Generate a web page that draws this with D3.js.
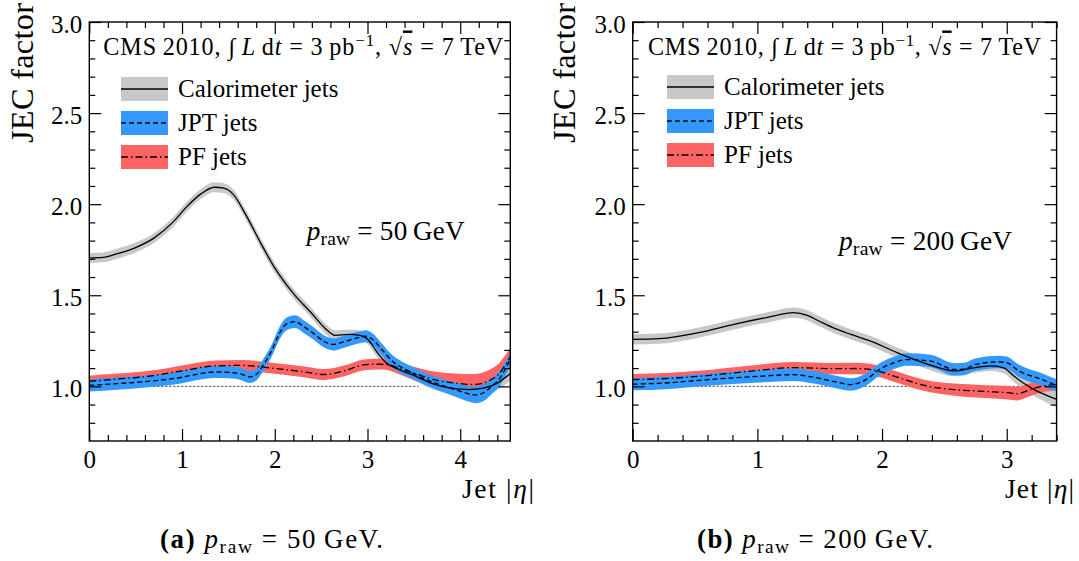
<!DOCTYPE html>
<html>
<head>
<meta charset="utf-8">
<script src="https://cdn.jsdelivr.net/npm/d3@7"></script>
<style>
  html, body { margin: 0; padding: 0; background: #fff; }
  svg { display: block; }
  text { font-family: "Liberation Serif", "DejaVu Serif", serif; fill: #000; }
</style>
</head>
<body>
<svg id="chart" width="1079" height="561"></svg>
<script>
// Jet energy correction (JEC) factor versus jet |eta| for three jet types.

const seriesNames = ["Calorimeter jets", "JPT jets", "PF jets"];
const yTicks = [1.0, 1.5, 2.0, 2.5, 3.0];
const xTicks50 = [0, 1, 2, 3, 4];
const xTicks200 = [0, 1, 2, 3];

// ---- p_raw = 50 GeV ----
const caloEta50 = [0, 0.15, 0.3, 0.5, 0.7, 0.9, 1.05, 1.2, 1.35, 1.45, 1.55, 1.7, 1.85, 2.0, 2.2, 2.4, 2.55, 2.65, 2.8, 2.92, 3.0, 3.1, 3.2, 3.35, 3.5, 3.7, 3.9, 4.1, 4.25, 4.4, 4.54];
const calo50 = [1.705, 1.708, 1.728, 1.762, 1.815, 1.9, 1.985, 2.055, 2.093, 2.088, 2.055, 1.93, 1.785, 1.65, 1.51, 1.4, 1.315, 1.28, 1.285, 1.28, 1.26, 1.19, 1.13, 1.09, 1.06, 1.015, 0.99, 0.982, 0.99, 1.018, 1.07];
const caloErr50 = [0.027, 0.027, 0.027, 0.027, 0.027, 0.027, 0.027, 0.027, 0.027, 0.027, 0.027, 0.027, 0.027, 0.027, 0.027, 0.027, 0.027, 0.027, 0.027, 0.027, 0.027, 0.027, 0.027, 0.028, 0.029, 0.03, 0.032, 0.034, 0.036, 0.038, 0.04];

const jptEta50 = [0, 0.3, 0.67, 1.0, 1.2, 1.36, 1.5, 1.64, 1.73, 1.8, 1.88, 1.97, 2.05, 2.12, 2.22, 2.32, 2.42, 2.52, 2.63, 2.75, 2.88, 2.98, 3.05, 3.15, 3.28, 3.4, 3.5, 3.62, 3.75, 3.97, 4.1, 4.17, 4.25, 4.33, 4.42, 4.47, 4.54];
const jpt50 = [1.005, 1.015, 1.029, 1.05, 1.07, 1.079, 1.077, 1.067, 1.052, 1.065, 1.12, 1.2, 1.29, 1.34, 1.355, 1.325, 1.29, 1.25, 1.23, 1.245, 1.265, 1.275, 1.26, 1.205, 1.133, 1.095, 1.07, 1.04, 1.015, 0.978, 0.958, 0.953, 0.965, 0.996, 1.04, 1.08, 1.15];
const jptErr50 = [0.033, 0.033, 0.033, 0.033, 0.033, 0.033, 0.033, 0.033, 0.033, 0.033, 0.033, 0.033, 0.034, 0.035, 0.035, 0.035, 0.034, 0.033, 0.033, 0.033, 0.033, 0.033, 0.033, 0.033, 0.033, 0.033, 0.033, 0.033, 0.035, 0.039, 0.043, 0.046, 0.046, 0.043, 0.041, 0.039, 0.037];

const pfEta50 = [0, 0.3, 0.67, 1.0, 1.36, 1.64, 1.97, 2.31, 2.53, 2.75, 2.96, 3.1, 3.21, 3.34, 3.46, 3.6, 3.75, 3.95, 4.15, 4.32, 4.42, 4.47, 4.54];
const pf50 = [1.028, 1.04, 1.057, 1.085, 1.112, 1.115, 1.1, 1.08, 1.065, 1.085, 1.118, 1.122, 1.12, 1.1, 1.079, 1.055, 1.033, 1.018, 1.01, 1.033, 1.07, 1.105, 1.16];
const pfErr50 = [0.03, 0.03, 0.03, 0.03, 0.03, 0.03, 0.03, 0.03, 0.03, 0.03, 0.03, 0.03, 0.03, 0.031, 0.034, 0.039, 0.046, 0.053, 0.058, 0.06, 0.058, 0.055, 0.052];

// ---- p_raw = 200 GeV ----
const caloEta200 = [0, 0.21, 0.53, 0.82, 1.09, 1.29, 1.4, 1.49, 1.63, 1.75, 1.94, 2.12, 2.34, 2.58, 2.72, 2.88, 2.98, 3.06, 3.2, 3.32, 3.4];
const calo200 = [1.258, 1.262, 1.295, 1.342, 1.38, 1.405, 1.39, 1.36, 1.315, 1.285, 1.24, 1.185, 1.128, 1.085, 1.1, 1.112, 1.1, 1.055, 0.99, 0.95, 0.928];
const caloErr200 = [0.028, 0.028, 0.028, 0.028, 0.028, 0.028, 0.028, 0.028, 0.028, 0.028, 0.028, 0.028, 0.028, 0.028, 0.028, 0.028, 0.03, 0.032, 0.035, 0.038, 0.042];

const jptEta200 = [0, 0.3, 0.53, 1.01, 1.29, 1.45, 1.63, 1.75, 1.86, 1.99, 2.1, 2.2, 2.39, 2.58, 2.66, 2.74, 2.93, 3.0, 3.09, 3.3, 3.4];
const jpt200 = [1.012, 1.02, 1.033, 1.055, 1.064, 1.05, 1.024, 1.01, 1.033, 1.097, 1.13, 1.147, 1.139, 1.093, 1.095, 1.118, 1.134, 1.13, 1.088, 1.033, 1.005];
const jptErr200 = [0.034, 0.034, 0.034, 0.034, 0.034, 0.034, 0.034, 0.034, 0.034, 0.034, 0.034, 0.034, 0.034, 0.034, 0.034, 0.034, 0.034, 0.034, 0.034, 0.034, 0.034];

const pfEta200 = [0, 0.3, 0.53, 1.01, 1.29, 1.63, 1.8, 1.94, 2.12, 2.34, 2.58, 2.79, 3.01, 3.08, 3.2, 3.3, 3.4];
const pf200 = [1.037, 1.044, 1.055, 1.088, 1.103, 1.097, 1.098, 1.088, 1.051, 1.005, 0.982, 0.973, 0.965, 0.96, 0.985, 1.003, 1.01];
const pfErr200 = [0.031, 0.031, 0.031, 0.031, 0.031, 0.031, 0.031, 0.031, 0.031, 0.031, 0.033, 0.035, 0.037, 0.037, 0.035, 0.033, 0.031];

// ---- styling ----
const bandColors = ["#c8c8c8", "#3399ff", "#ff6464"];
const lineDash = [null, "5,3", "7,3,1.5,3"];

const svg = d3.select("#chart");

function zip(eta, v, e) {
  return eta.map((x, i) => ({ eta: x, v: v[i], e: e[i] }));
}

// Build a text element at a base size, then rebuild it at a size that
// nearly fills the target width; the last bit goes to letter spacing.
function sizedText(parent, build, baseSize, targetW, maxScale) {
  let t = build(parent, baseSize);
  const w = t.node().getComputedTextLength();
  const s = baseSize * Math.min(maxScale, (targetW * 0.985) / w);
  t.remove();
  t = build(parent, s);
  t.attr("textLength", targetW).attr("lengthAdjust", "spacing");
  return t;
}

function drawPanel(cfg) {
  const g = svg.append("g");
  const x = d3.scaleLinear().domain([0, cfg.etaMax]).range([cfg.left, cfg.right]);
  const y = d3.scaleLinear().domain([0.7, 3.0]).range([441, 22]);

  const clipId = "clip" + cfg.id;
  svg.append("defs").append("clipPath").attr("id", clipId)
    .append("rect").attr("x", cfg.left).attr("y", 22)
    .attr("width", cfg.right - cfg.left).attr("height", 441 - 22);

  const plot = g.append("g").attr("clip-path", `url(#${clipId})`);

  // reference at unity
  plot.append("line")
    .attr("x1", x(0)).attr("x2", x(cfg.refEnd))
    .attr("y1", y(1)).attr("y2", y(1))
    .attr("stroke", "#333").attr("stroke-width", 1).attr("stroke-dasharray", "2,2");

  const area = d3.area().curve(d3.curveMonotoneX)
    .x(d => x(d.eta)).y0(d => y(d.v - d.e)).y1(d => y(d.v + d.e));
  const line = d3.line().curve(d3.curveMonotoneX)
    .x(d => x(d.eta)).y(d => y(d.v));

  // bands: calorimeter, PF, JPT
  [0, 2, 1].forEach(k => {
    plot.append("path").datum(cfg.series[k])
      .attr("d", area).attr("fill", bandColors[k]).attr("stroke", "none");
  });
  [0, 2, 1].forEach(k => {
    plot.append("path").datum(cfg.series[k])
      .attr("d", line).attr("fill", "none").attr("stroke", "#000")
      .attr("stroke-width", 1.3)
      .attr("stroke-dasharray", lineDash[k]);
  });

  // axes with inward ticks on all four sides
  const xMinor = d3.range(0, cfg.etaMax + 1e-9, 0.2).filter(v => Math.abs(v - Math.round(v)) > 1e-6);
  const yMinor = d3.range(0.8, 3.0001, 0.1).filter(v => Math.abs(v * 2 - Math.round(v * 2)) > 1e-6);

  const axisG = g.append("g");
  const styleAxis = sel => {
    sel.attr("font-family", null).attr("font-size", null);
    sel.select(".domain").remove();
    sel.selectAll(".tick line").attr("stroke", "#000").attr("stroke-width", 1.2);
    sel.selectAll("text").attr("font-size", 25).attr("fill", "#000");
  };

  axisG.append("g").attr("transform", "translate(0,441)")
    .call(d3.axisBottom(x).tickValues(cfg.xTicks).tickSize(-12).tickPadding(9).tickFormat(d3.format("d")))
    .call(styleAxis);
  axisG.append("g").attr("transform", "translate(0,441)")
    .call(d3.axisBottom(x).tickValues(xMinor).tickSize(-6).tickFormat(""))
    .call(styleAxis);
  axisG.append("g").attr("transform", "translate(0,22)")
    .call(d3.axisTop(x).tickValues(cfg.xTicks).tickSize(-12).tickFormat(""))
    .call(styleAxis);
  axisG.append("g").attr("transform", "translate(0,22)")
    .call(d3.axisTop(x).tickValues(xMinor).tickSize(-6).tickFormat(""))
    .call(styleAxis);
  axisG.append("g").attr("transform", `translate(${cfg.left},0)`)
    .call(d3.axisLeft(y).tickValues(yTicks).tickSize(-12).tickPadding(7).tickFormat(d3.format(".1f")))
    .call(styleAxis)
    .selectAll("text").attr("dy", "0.42em");
  axisG.append("g").attr("transform", `translate(${cfg.left},0)`)
    .call(d3.axisLeft(y).tickValues(yMinor).tickSize(-6).tickFormat(""))
    .call(styleAxis);
  axisG.append("g").attr("transform", `translate(${cfg.right},0)`)
    .call(d3.axisRight(y).tickValues(yTicks).tickSize(-12).tickFormat(""))
    .call(styleAxis);
  axisG.append("g").attr("transform", `translate(${cfg.right},0)`)
    .call(d3.axisRight(y).tickValues(yMinor).tickSize(-6).tickFormat(""))
    .call(styleAxis);

  g.append("rect")
    .attr("x", cfg.left).attr("y", 22)
    .attr("width", cfg.right - cfg.left).attr("height", 441 - 22)
    .attr("fill", "none").attr("stroke", "#000").attr("stroke-width", 1.4);

  // axis titles
  sizedText(g, (p, s) => p.append("text")
    .attr("transform", `translate(${cfg.yLabelX},73) rotate(-90)`)
    .attr("text-anchor", "middle").attr("font-size", s).text("JEC factor"), 30, 140, 1.08);

  sizedText(g, (p, s) => {
    const t = p.append("text").attr("x", cfg.xLabelX).attr("y", 498).attr("font-size", s);
    t.append("tspan").text("Jet |");
    t.append("tspan").attr("font-style", "italic").text("η");
    t.append("tspan").text("|");
    return t;
  }, 25, cfg.xLabelW, 1.1);

  // collaboration / dataset line
  sizedText(g, (p, s) => {
    const t = p.append("text").attr("x", cfg.headX).attr("y", 54.5).attr("font-size", s);
    t.append("tspan").text("CMS\u2009" + "2010, ∫\u2009");
    t.append("tspan").attr("font-style", "italic").text("L");
    t.append("tspan").text("\u2009d");
    t.append("tspan").attr("font-style", "italic").text("t");
    t.append("tspan").text(" = 3\u2009pb");
    t.append("tspan").attr("dy", -0.36 * s).attr("font-size", 0.7 * s).text("−1");
    t.append("tspan").attr("dy", 0.36 * s).text(", √");
    t.append("tspan").attr("font-style", "italic").style("text-decoration", "overline").text("s");
    t.append("tspan").text(" = 7\u2009TeV");
    return t;
  }, 21, cfg.headW, 1.15);

  // legend
  const lg = g.append("g");
  seriesNames.forEach((name, k) => {
    const cy = cfg.legY + k * 34;
    lg.append("rect").attr("x", cfg.legX).attr("y", cy - 12)
      .attr("width", 47).attr("height", 24).attr("fill", bandColors[k]);
    lg.append("line").attr("x1", cfg.legX).attr("x2", cfg.legX + 47)
      .attr("y1", cy).attr("y2", cy)
      .attr("stroke", "#000").attr("stroke-width", 1.3)
      .attr("stroke-dasharray", lineDash[k]);
    lg.append("text").attr("x", cfg.legX + 57).attr("y", cy + 8)
      .attr("font-size", 25).text(name);
  });

  // momentum annotation
  sizedText(g, (p, s) => {
    const t = p.append("text").attr("x", cfg.pX).attr("y", cfg.pY).attr("font-size", s);
    t.append("tspan").attr("font-style", "italic").text("p");
    t.append("tspan").attr("dy", 0.2 * s).attr("font-size", 0.72 * s).text("raw");
    t.append("tspan").attr("dy", -0.2 * s).text(` = ${cfg.pLabel}\u2009GeV`);
    return t;
  }, 25, cfg.pW, 1.12);

  // sub-figure caption
  sizedText(g, (p, s) => {
    const t = p.append("text").attr("x", cfg.capX).attr("y", 548).attr("font-size", s);
    t.append("tspan").attr("font-weight", "bold").text(cfg.capTag);
    t.append("tspan").text(" ");
    t.append("tspan").attr("font-style", "italic").text("p");
    t.append("tspan").attr("dy", 0.2 * s).attr("font-size", 0.72 * s).text("raw");
    t.append("tspan").attr("dy", -0.2 * s).text(` = ${cfg.pLabel}\u2009GeV.`);
    return t;
  }, 24, cfg.capW, 1.12);
}

drawPanel({
  id: "a", left: 89.3, right: 510.3, etaMax: 4.54, xTicks: xTicks50, refEnd: 3.55,
  series: [zip(caloEta50, calo50, caloErr50), zip(jptEta50, jpt50, jptErr50), zip(pfEta50, pf50, pfErr50)],
  yLabelX: 33, xLabelX: 462, xLabelW: 72,
  headX: 103.3, headW: 400, legX: 121, legY: 89,
  pX: 306.7, pY: 240, pW: 158, pLabel: "50",
  capX: 160, capW: 223, capTag: "(a)"
});

drawPanel({
  id: "b", left: 632.7, right: 1056.6, etaMax: 3.4, xTicks: xTicks200, refEnd: 3.4,
  series: [zip(caloEta200, calo200, caloErr200), zip(jptEta200, jpt200, jptErr200), zip(pfEta200, pf200, pfErr200)],
  yLabelX: 575, xLabelX: 1005, xLabelW: 69,
  headX: 648, headW: 393, legX: 667, legY: 87,
  pX: 839, pY: 250, pW: 173, pLabel: "200",
  capX: 697, capW: 236, capTag: "(b)"
});
</script>
</body>
</html>
